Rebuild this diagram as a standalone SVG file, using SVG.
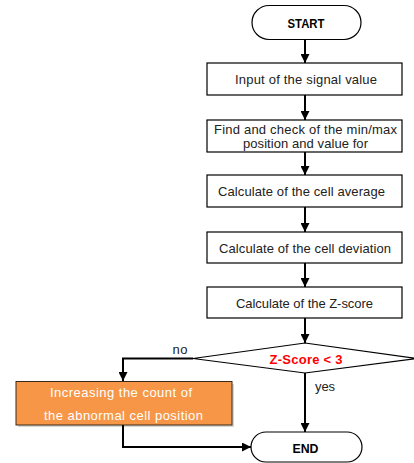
<svg xmlns="http://www.w3.org/2000/svg" width="414" height="463" viewBox="0 0 414 463">
<defs>
<marker id="ah" viewBox="0 0 10 10" refX="10" refY="5" markerWidth="4.5" markerHeight="4.5" orient="auto" markerUnits="strokeWidth">
<path d="M0,0 L10,5 L0,10 z" fill="#000"/>
</marker>
<style>
.box{fill:#fff;stroke:#000;stroke-width:1.2}
.t{font-family:"Liberation Sans",Arial,sans-serif;font-size:13px;fill:#222;text-anchor:middle}
.b{font-family:"Liberation Sans",Arial,sans-serif;font-size:12px;font-weight:bold;fill:#000;text-anchor:middle}
.w{font-family:"Liberation Sans",Arial,sans-serif;font-size:13px;fill:#fff;text-anchor:middle}
.c{fill:none;stroke:#000;stroke-width:2;marker-end:url(#ah)}
</style>
</defs>
<rect width="414" height="463" fill="#fff"/>
<g id="start">
<rect class="box" x="252" y="5.5" width="109" height="34" rx="17"/>
<text class="b" x="306" y="28" textLength="37" lengthAdjust="spacingAndGlyphs">START</text>
</g>
<g id="input">
<rect class="box" x="207" y="63" width="195" height="32"/>
<text class="t" x="306" y="84" textLength="142" lengthAdjust="spacing">Input of the signal value</text>
</g>
<g id="find">
<rect class="box" x="207" y="120" width="195" height="32"/>
<text class="t" x="305.5" y="134" textLength="183" lengthAdjust="spacing">Find and check of the min/max</text>
<text class="t" x="305.5" y="148" textLength="125" lengthAdjust="spacing">position and value for</text>
</g>
<g id="avg">
<rect class="box" x="207" y="175" width="195" height="32"/>
<text class="t" x="301.5" y="196" textLength="167" lengthAdjust="spacing">Calculate of the cell average</text>
</g>
<g id="dev">
<rect class="box" x="207" y="232" width="195" height="31"/>
<text class="t" x="305" y="252.5" textLength="172" lengthAdjust="spacing">Calculate of the cell deviation</text>
</g>
<g id="zscore">
<rect class="box" x="207" y="287" width="195" height="31"/>
<text class="t" x="304.5" y="307.5" textLength="137" lengthAdjust="spacing">Calculate of the Z-score</text>
</g>
<g id="decision">
<polygon class="box" points="305,343 417,358.5 305,373 193,358.5"/>
<text class="b" x="306" y="363.5" style="fill:#ff0000;font-size:13px" textLength="73" lengthAdjust="spacing">Z-Score &lt; 3</text>
</g>
<g id="increase">
<rect x="18" y="384" width="216" height="43" fill="#d8d8d0"/>
<rect x="16" y="381.5" width="216" height="43.5" fill="#f79646" stroke="#3a2a1a" stroke-width="1"/>
<text class="w" x="121" y="396.5" textLength="142" lengthAdjust="spacing">Increasing the count of</text>
<text class="w" x="123.5" y="420" textLength="159" lengthAdjust="spacing">the abnormal cell position</text>
</g>
<g id="end">
<rect class="box" x="251" y="432" width="111" height="30" rx="15"/>
<text class="b" x="305.5" y="452.5" textLength="26" lengthAdjust="spacingAndGlyphs">END</text>
</g>
<g id="connectors">
<line class="c" x1="305" y1="40" x2="305" y2="63"/>
<line class="c" x1="305" y1="95" x2="305" y2="120"/>
<line class="c" x1="305" y1="152" x2="305" y2="175"/>
<line class="c" x1="305" y1="207" x2="305" y2="232"/>
<line class="c" x1="305" y1="263" x2="305" y2="287"/>
<line class="c" x1="305" y1="318" x2="305" y2="343"/>
<polyline class="c" points="193,358.5 123,358.5 123,381"/>
<line class="c" x1="305" y1="373" x2="305" y2="432"/>
<polyline class="c" points="123,425 123,447 251,447"/>
<text class="t" x="180" y="354" textLength="15" lengthAdjust="spacing">no</text>
<text class="t" x="325" y="391" textLength="20" lengthAdjust="spacing">yes</text>
</g>
</svg>
